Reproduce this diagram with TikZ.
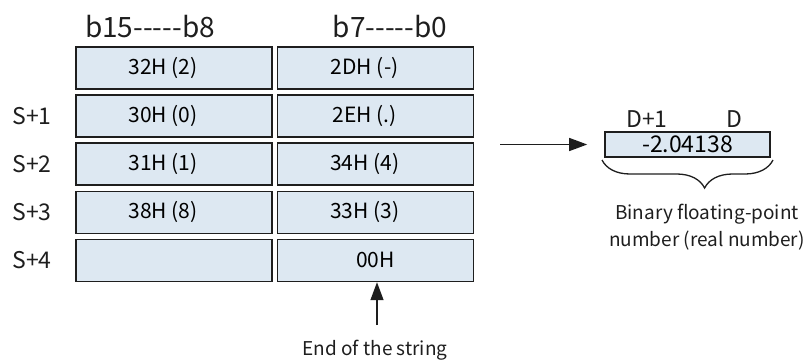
\documentclass[tikz,border=0pt]{standalone}
\usepackage{fontspec}
\setmainfont{Noto Sans CJK SC}
\usetikzlibrary{arrows.meta,positioning,decorations.pathreplacing}
\definecolor{cellbg}{HTML}{DDE8F2}
\definecolor{ink}{HTML}{1E1E1E}
\tikzset{
  cell/.style={draw=ink,line width=1.6pt,fill=cellbg,minimum width=196pt,minimum height=42pt,inner sep=0pt,font=\fontsize{21}{24}\selectfont},
  pad/.style={execute at end node={\kern22pt}},
  reg/.style={text=ink,font=\fontsize{23}{26}\selectfont},
  hd/.style={text=ink,font=\fontsize{28}{32}\selectfont},
  ar/.style={-{Triangle[length=18pt,width=13pt]},line width=1.4pt,draw=ink},
}
\begin{document}
\begin{tikzpicture}[x=1pt,y=-1pt,node distance=4.5pt]
\useasboundingbox (0,0) rectangle (811,364);
\node[hd] (hi) at (150,27) {b15-{}-{}-{}-{}-b8};
\node[hd] (lo) at (390,27) {b7-{}-{}-{}-{}-b0};
% string in S ... S+4
\node[cell,pad] (h0) at (174,68) {32H (2)};
\node[cell,pad,right=4pt of h0] (l0) {2DH (-)};
\node[cell,pad,below=of h0] (h1) {30H (0)};
\node[cell,pad,below=of l0] (l1) {2EH (.)};
\node[cell,pad,below=of h1] (h2) {31H (1)};
\node[cell,pad,below=of l1] (l2) {34H (4)};
\node[cell,pad,below=of h2] (h3) {38H (8)};
\node[cell,pad,below=of l2] (l3) {33H (3)};
\node[cell,below=of h3] (h4) {};
\node[cell,below=of l3] (l4) {00H};
\node[reg,left=20pt of h1] (s1) {S+1};
\node[reg,left=20pt of h2] (s2) {S+2};
\node[reg,left=20pt of h3] (s3) {S+3};
\node[reg,left=20pt of h4] (s4) {S+4};
% end mark
\node[reg,font=\fontsize{19}{22}\selectfont] (eos) at (375,350) {End of the string};
\coordinate (eosx) at (377,325);
\draw[ar] (eosx) -- (eosx |- l4.south);
% result in D+1, D
\node[cell,minimum width=165pt,minimum height=25pt,font=\fontsize{23}{26}\selectfont] (fl) at (687.5,144.5) {-2.04138};
\node[reg] (d1) at (647,119) {D+1};
\node[reg] (d0) at (734,119) {D};
\coordinate (src) at (500,144.5);
\draw[ar,shorten >=17pt] (src) -- (fl);
\coordinate (bl) at (602,160);
\coordinate (br) at (773,160);
\draw[draw=ink,line width=1.3pt,decorate,decoration={brace,mirror,amplitude=28pt,aspect=0.6}] (bl) -- (br);
\node[reg,align=center,font=\fontsize{19}{27}\selectfont] (bin) at (707,227) {Binary floating-point\\number (real number)};
\end{tikzpicture}
\end{document}
